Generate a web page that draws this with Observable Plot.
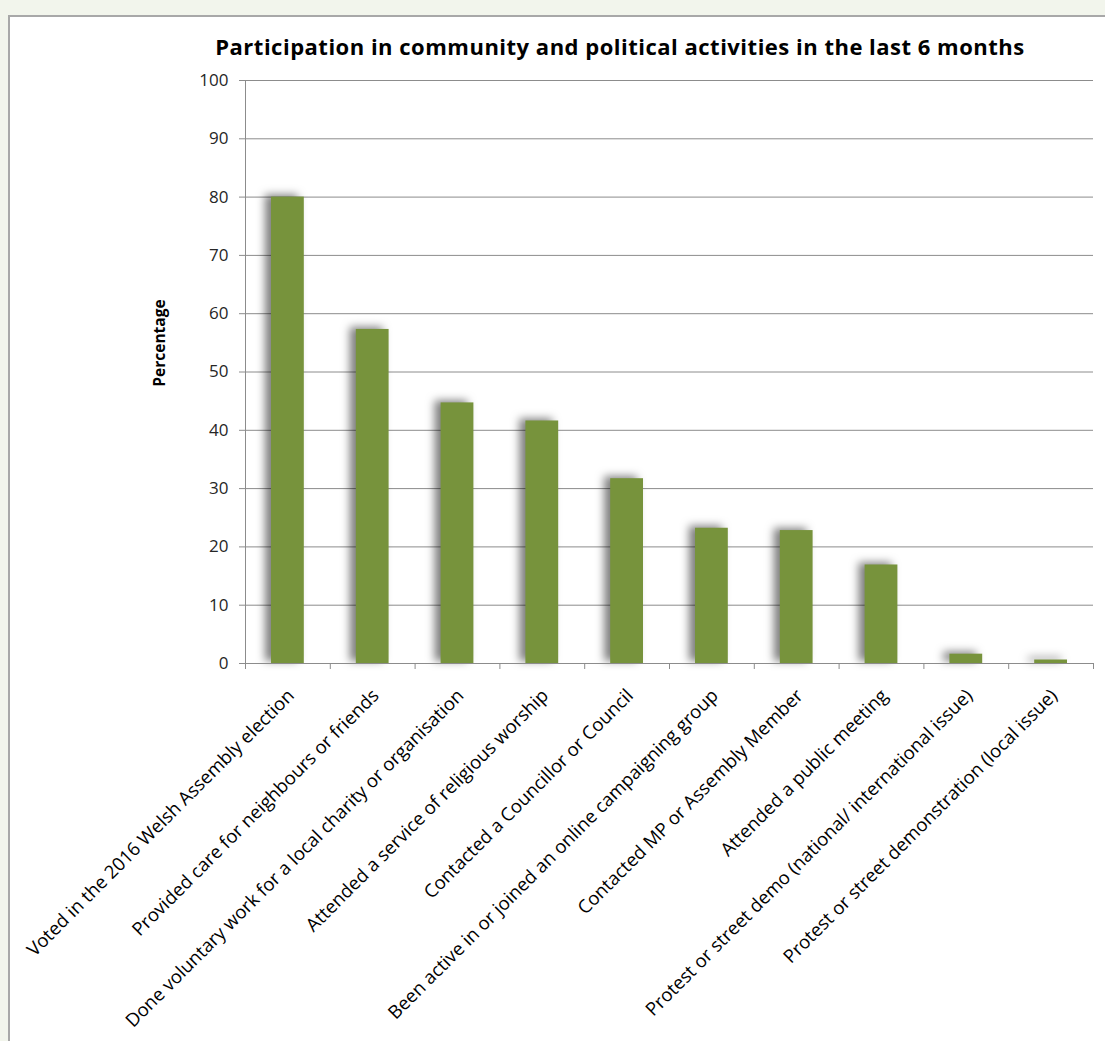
<!DOCTYPE html>
<html>
<head>
<meta charset="utf-8">
<script src="https://cdn.jsdelivr.net/npm/d3@7"></script>
<script src="https://cdn.jsdelivr.net/npm/@observablehq/plot@0.6"></script>
<style>
  html, body { margin: 0; padding: 0; background: #f2f5ec; width: 1105px; height: 1041px; overflow: hidden; }
  #box { position: absolute; left: 8px; top: 15px; width: 1120px; height: 1040px; background: #ffffff; border: 2px solid #a8a8a8; box-sizing: border-box; }
  #title { position: absolute; left: 0; width: 1240px; top: 31px; text-align: center; font-family: "Open Sans", sans-serif; font-weight: bold; font-size: 22px; letter-spacing: 0.5px; color: #000; white-space: nowrap; line-height: 30px; }
  #chart { position: absolute; left: 0; top: 0; }
  #chart svg { background: transparent !important; }
  .bars { filter: drop-shadow(-6px -2px 4px rgba(0,0,0,0.5)); }
</style>
</head>
<body>
<div id="box"></div>
<div id="title">Participation in community and political activities in the last 6 months</div>
<div id="chart"></div>
<script>
const categories = [
  "Voted in the 2016 Welsh Assembly election",
  "Provided care for neighbours or friends",
  "Done voluntary work for a local charity or organisation",
  "Attended a service of religious worship",
  "Contacted a Councillor or Council",
  "Been active in or joined an online campaigning group",
  "Contacted MP or Assembly Member",
  "Attended a public meeting",
  "Protest or street demo (national/ international issue)",
  "Protest or street demonstration (local issue)"
];
const values = [80.0, 57.3, 44.7, 41.6, 31.7, 23.2, 22.8, 16.9, 1.6, 0.6];
const yTicks = [0, 10, 20, 30, 40, 50, 60, 70, 80, 90, 100];
const yLabel = "Percentage";

const data = categories.map((name, i) => ({ i, name, value: values[i] }));
const font = "'Open Sans', sans-serif";

const chart = Plot.plot({
  width: 1105,
  height: 1041,
  marginLeft: 245,
  marginRight: 12,
  marginTop: 80,
  marginBottom: 378,
  style: { background: "transparent", fontFamily: font, color: "#262626" },
  x: { type: "linear", domain: [0, categories.length], axis: null },
  y: { domain: [0, 100], axis: null },
  marks: [
    Plot.gridY(yTicks, { stroke: "#8c8c8c", strokeOpacity: 1, strokeWidth: 1 }),
    Plot.axisY(yTicks, { tickSize: 6, tickPadding: 11, stroke: "#8c8c8c", fontSize: 17, fill: "#262626", label: null }),
    Plot.ruleX([0], { stroke: "#8c8c8c" }),
    Plot.rectY(data, { x1: "i", x2: d => d.i + 1, y: "value", insetLeft: 26, insetRight: 26, fill: "#77933c", className: "bars" }),
    Plot.ruleY([0], { stroke: "#8c8c8c" }),
    Plot.axisX(d3.range(categories.length + 1), { tickSize: 6, tickFormat: () => "", stroke: "#8c8c8c", label: null }),
    Plot.text(data, { x: d => d.i + 0.5, y: 0, text: "name", rotate: -45, textAnchor: "end", lineAnchor: "top", dx: -2, dy: 24, fontSize: 18.5, fill: "#000" }),
    Plot.text([yLabel], { frameAnchor: "left", textAnchor: "middle", rotate: -90, dx: -85, dy: -29, fontWeight: "bold", fontSize: 15.5, fill: "#000" })
  ]
});
document.getElementById("chart").appendChild(chart);
</script>
</body>
</html>
